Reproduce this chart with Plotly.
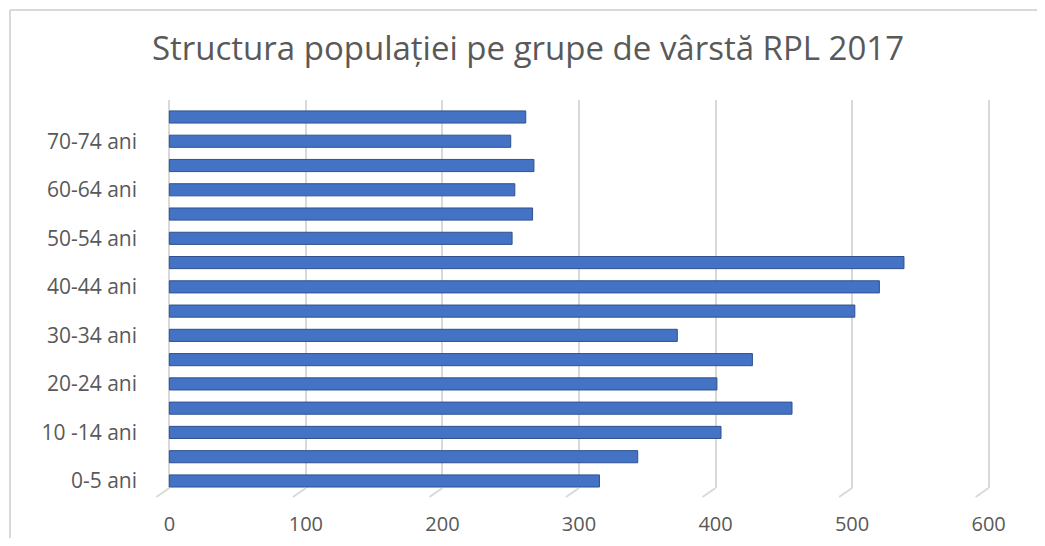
import plotly.graph_objects as go

categories = ["0-5 ani", "5-9 ani", "10 -14 ani", "15-19 ani", "20-24 ani", "25-29 ani",
              "30-34 ani", "35-39 ani", "40-44 ani", "45-49 ani", "50-54 ani", "55-59 ani",
              "60-64 ani", "65-69 ani", "70-74 ani", "75+ ani"]
values = [315, 343, 404, 456, 401, 427, 372, 502, 520, 538, 251, 266, 253, 267, 250, 261]
shown_labels = categories[::2]
x_ticks = [0, 100, 200, 300, 400, 500, 600]

# the page adds an 8px body margin, so the figure is 16px smaller than the window
OFF = 8
W, H = 1045 - 2 * OFF, 546 - 2 * OFF
L, R, T, B = 168 - OFF, W - (990 - OFF), 100 - OFF, H - (488 - OFF)
pw, ph = W - L - R, H - T - B
XMIN, XMAX = -1, 601

def px_x(p):
    return (p - OFF - L) / pw

def px_y(p):
    return (H - B - (p - OFF)) / ph

def val_x(v):
    return (v - XMIN) / (XMAX - XMIN)

fig = go.Figure(go.Bar(
    x=values, y=categories, orientation="h",
    marker=dict(color="#4472C4", line=dict(color="#2F528F", width=1)),
))

shapes = []
# floor lines of the 3D wall under each gridline
for v in x_ticks:
    shapes.append(dict(type="line", xref="paper", yref="paper",
                       x0=val_x(v), x1=val_x(v) - 13 / pw,
                       y0=0, y1=-9 / ph, line=dict(color="#D9D9D9", width=2)))
# chart area border (left and top)
shapes.append(dict(type="line", xref="paper", yref="paper", x0=px_x(10), x1=px_x(10),
                   y0=px_y(10), y1=px_y(560), line=dict(color="#D9D9D9", width=2)))
shapes.append(dict(type="line", xref="paper", yref="paper", x0=px_x(10), x1=px_x(1060),
                   y0=px_y(10), y1=px_y(10), line=dict(color="#D9D9D9", width=2)))

fig.update_layout(
    width=W, height=H,
    margin=dict(l=L, r=R, t=T, b=B, pad=0, autoexpand=False),
    paper_bgcolor="white", plot_bgcolor="white",
    showlegend=False,
    bargap=0.5,
    font=dict(family="Open Sans", color="#595959"),
    title=dict(text="Structura populației pe grupe de vârstă RPL 2017",
               x=(528 - OFF) / W, xref="container", xanchor="center",
               y=1 - (48 - OFF) / H, yref="container", yanchor="middle",
               font=dict(family="Open Sans", size=33, color="#595959")),
    xaxis=dict(range=[XMIN, XMAX], tickvals=x_ticks, showgrid=True, gridcolor="#D9D9D9",
               gridwidth=2, zeroline=False, showline=False, ticks="", automargin=False,
               tickfont=dict(size=20, color="#595959"), ticklabelstandoff=22),
    yaxis=dict(type="category", categoryorder="array", categoryarray=categories,
               range=[-0.29, 15.7], tickvals=shown_labels, ticktext=shown_labels,
               showgrid=False, zeroline=False, showline=False, ticks="", automargin=False,
               tickfont=dict(size=21, color="#595959"), ticklabelstandoff=30),
    shapes=shapes,
)

fig.write_html("out.html")
